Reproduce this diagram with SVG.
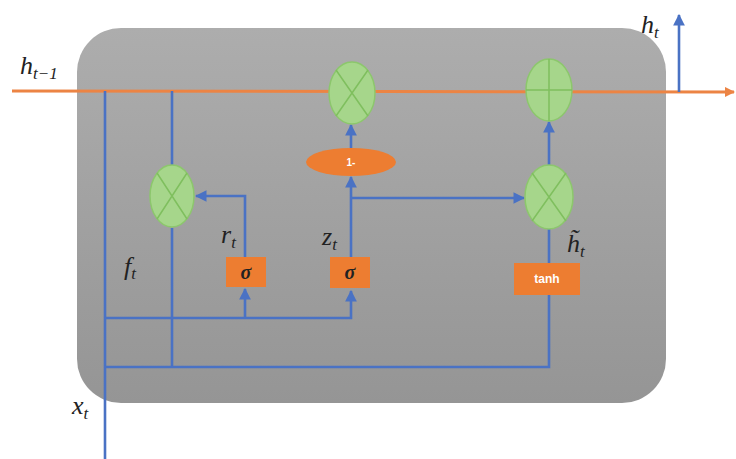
<svg xmlns="http://www.w3.org/2000/svg" width="736" height="459" viewBox="0 0 736 459">
<defs>
<linearGradient id="bg" x1="0" y1="0" x2="0" y2="1">
<stop offset="0" stop-color="#adadad"/>
<stop offset="1" stop-color="#959595"/>
</linearGradient>
<marker id="ab" viewBox="0 0 10 10" refX="9" refY="5" markerWidth="4.5" markerHeight="4.5" orient="auto" markerUnits="strokeWidth">
<path d="M0,0 L10,5 L0,10 Z" fill="#4a72c4"/>
</marker>
<marker id="ao" viewBox="0 0 10 10" refX="9" refY="5" markerWidth="3.5" markerHeight="3.5" orient="auto" markerUnits="strokeWidth">
<path d="M0,0 L10,5 L0,10 Z" fill="#ec8444"/>
</marker>
</defs>
<style>
.b{stroke:#4a72c4;stroke-width:2.6;fill:none}
.g{fill:#a6d68b;stroke:#8cc76c;stroke-width:1.5}
.gx{stroke:#7fbf5e;stroke-width:1.5;fill:none}
.ob{fill:#ed7d31}
.m{font-family:"Liberation Serif","DejaVu Serif",serif;font-style:italic;fill:#222}
.w{font-family:"Liberation Sans",Arial,sans-serif;font-weight:bold;fill:#fff}
</style>
<rect x="77" y="28" width="589" height="375" rx="44" ry="44" fill="url(#bg)"/>
<g id="connectors">
<line x1="12" y1="91" x2="734" y2="92" stroke="#ec8444" stroke-width="3" marker-end="url(#ao)"/>
<polyline class="b" points="105,91 105,459"/>
<polyline class="b" points="172,91 172,165"/>
<polyline class="b" points="172,228 172,367"/>
<polyline class="b" points="105,367 549,367 549,295"/>
<polyline class="b" points="105,318 351,318 351,291" marker-end="url(#ab)"/>
<polyline class="b" points="245,318 245,289" marker-end="url(#ab)"/>
<polyline class="b" points="245,257 245,196 196,196" marker-end="url(#ab)"/>
<polyline class="b" points="351,257 351,177" marker-end="url(#ab)"/>
<polyline class="b" points="351,198 524,198" marker-end="url(#ab)"/>
<polyline class="b" points="351,148 351,125" marker-end="url(#ab)"/>
<polyline class="b" points="549,263 549,229"/>
<polyline class="b" points="549,165 549,122" marker-end="url(#ab)"/>
<polyline class="b" points="679,92 679,15" marker-end="url(#ab)"/>
</g>
<g id="mul_r">
<ellipse class="g" cx="172" cy="196" rx="22" ry="31"/>
<path class="gx" d="M157,173 L187,219 M187,173 L157,219"/>
</g>
<g id="mul_z">
<ellipse class="g" cx="352" cy="93" rx="23" ry="31"/>
<path class="gx" d="M336,70 L368,116 M368,70 L336,116"/>
</g>
<g id="plus">
<ellipse class="g" cx="549" cy="90" rx="23" ry="31"/>
<path class="gx" d="M526,90 L572,90 M549,59 L549,121"/>
</g>
<g id="mul_h">
<ellipse class="g" cx="549" cy="197" rx="24" ry="32"/>
<path class="gx" d="M532,173 L566,221 M566,173 L532,221"/>
</g>
<g id="one_minus">
<ellipse class="ob" cx="351" cy="162" rx="45" ry="14"/>
<text class="w" x="351" y="166" font-size="10" text-anchor="middle">1-</text>
</g>
<g id="sigma_r">
<rect class="ob" x="226" y="257" width="40" height="30"/>
<text class="m" x="246" y="279" font-size="20" text-anchor="middle" font-weight="bold" fill="#3a2a1a">σ</text>
</g>
<g id="sigma_z">
<rect class="ob" x="330" y="257" width="40" height="31"/>
<text class="m" x="350" y="279" font-size="20" text-anchor="middle" font-weight="bold" fill="#3a2a1a">σ</text>
</g>
<g id="tanh">
<rect class="ob" x="514" y="263" width="66" height="32"/>
<text class="w" x="547" y="283" font-size="12" text-anchor="middle">tanh</text>
</g>
<g id="labels">
<text class="m" x="20" y="74" font-size="26">h<tspan font-size="17" dy="5">t−1</tspan></text>
<text class="m" x="641" y="33" font-size="26">h<tspan font-size="17" dy="5">t</tspan></text>
<text class="m" x="124" y="275" font-size="26">f<tspan font-size="17" dy="4">t</tspan></text>
<text class="m" x="221" y="243" font-size="26">r<tspan font-size="17" dy="5">t</tspan></text>
<text class="m" x="322" y="245" font-size="26">z<tspan font-size="17" dy="5">t</tspan></text>
<text class="m" x="567" y="252" font-size="26">h̃<tspan font-size="17" dy="5">t</tspan></text>
<text class="m" x="72" y="414" font-size="26">x<tspan font-size="17" dy="5">t</tspan></text>
</g>
</svg>
